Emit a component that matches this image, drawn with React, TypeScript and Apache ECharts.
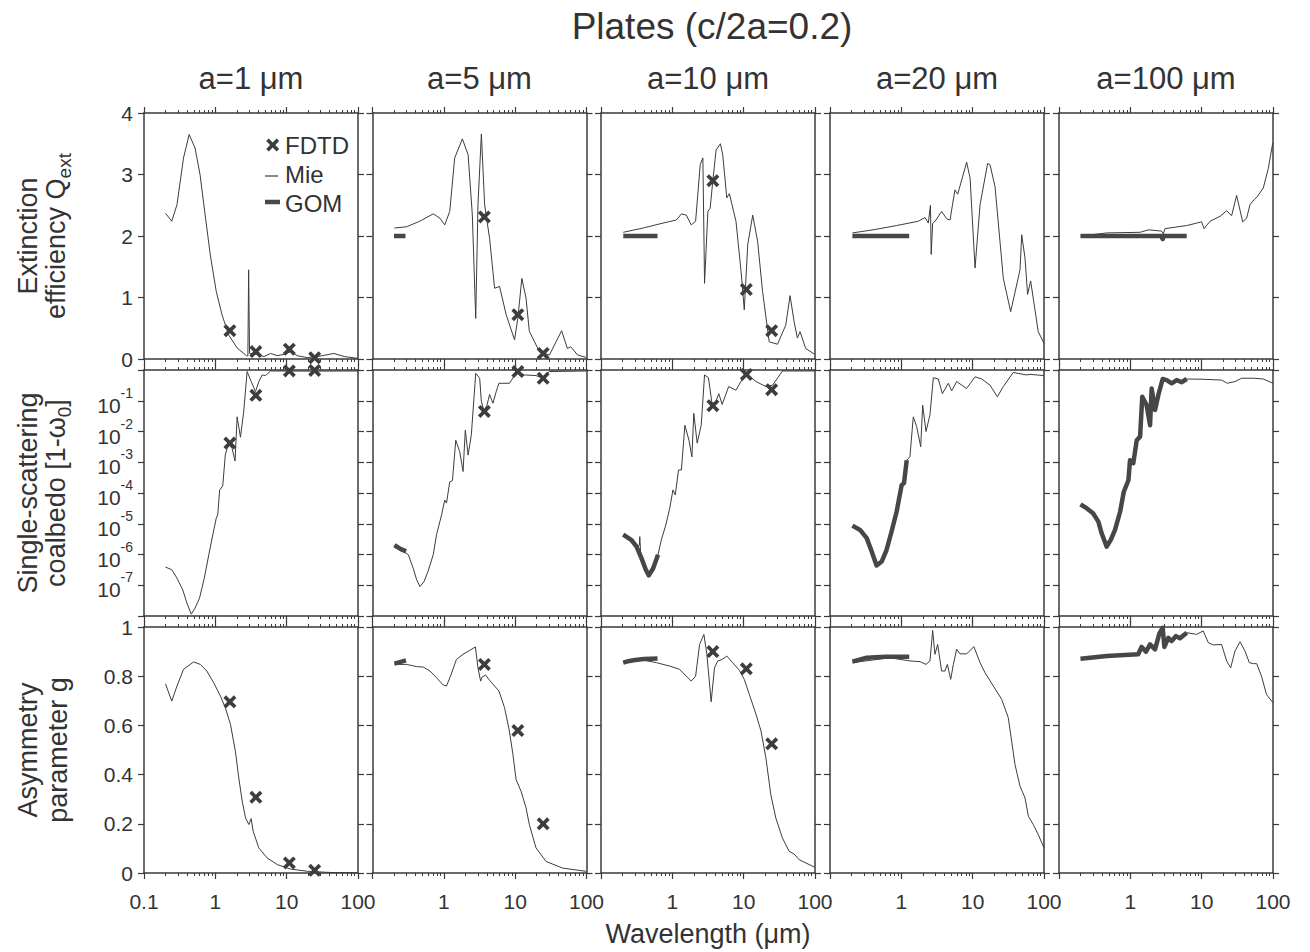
import React, { useEffect, useRef } from 'react';
import * as echarts from 'echarts';

// ---------------- DATA ----------------
const mainTitle = 'Plates (c/2a=0.2)';
const columnTitles = ['a=1 μm', 'a=5 μm', 'a=10 μm', 'a=20 μm', 'a=100 μm'];
const xAxisTitle = 'Wavelength (μm)';
const legendLabels = ['FDTD', 'Mie', 'GOM'];

// FDTD wavelengths (μm)
const fdtdWavelengths = [1.6, 3.7, 10.9, 24.7];

// Row 1: extinction efficiency Qext
const qextMie_a1 = [[0.2, 2.37], [0.245, 2.24], [0.29, 2.51], [0.358, 3.27], [0.43, 3.65], [0.52, 3.43], [0.61, 3.0], [0.72, 2.34], [0.85, 1.69], [1.03, 1.1], [1.24, 0.72], [1.54, 0.39], [2.02, 0.18], [2.73, 0.054], [2.86, 0.05], [2.93, 1.45], [3.02, 0.09], [3.86, 0.076], [4.8, 0.04], [5.95, 0.09], [7.4, 0.054], [9.2, 0.076], [11.4, 0.12], [14, 0.054], [19.5, 0.022], [27, 0.04], [46, 0.09], [64, 0.04], [100, 0.01]];
const qextFDTD_a1 = [0.46, 0.12, 0.16, 0.02];

const qextGOM_a5 = [[0.2, 2.0], [0.29, 2.0]];
const qextMie_a5 = [[0.203, 2.13], [0.3, 2.15], [0.46, 2.24], [0.71, 2.36], [0.88, 2.29], [1.03, 2.18], [1.21, 2.4], [1.42, 3.27], [1.82, 3.58], [2.19, 3.32], [2.51, 2.34], [2.8, 0.66], [3.01, 2.51], [3.36, 3.66], [3.73, 2.51], [4.38, 1.96], [5.15, 1.15], [6.04, 1.18], [7.48, 0.72], [9.8, 0.31], [10.9, 0.66], [12.4, 1.31], [14.2, 0.99], [15.8, 0.45], [21.9, 0.12], [30.2, 0.065], [44.8, 0.46], [54, 0.17], [60, 0.2], [75, 0.065], [98, 0.027]];
const qextFDTD_a5 = [null, 2.31, 0.72, 0.09];

const qextGOM_a10 = [[0.205, 2.0], [0.62, 2.0]];
const qextMie_a10 = [[0.205, 2.06], [0.39, 2.13], [0.74, 2.21], [1.14, 2.26], [1.34, 2.36], [1.57, 2.34], [1.84, 2.18], [2.12, 2.24], [2.46, 3.16], [2.68, 3.27], [2.83, 1.23], [3.15, 2.4], [3.39, 2.45], [3.69, 2.89], [4.11, 3.4], [4.72, 3.5], [5.09, 3.32], [5.8, 2.62], [6.3, 2.69], [7.8, 2.24], [9.2, 1.42], [10.2, 0.8], [11.4, 1.86], [13.4, 2.34], [15.7, 1.91], [18.4, 1.1], [22.8, 0.28], [29.8, 0.24], [38.9, 0.55], [44.7, 1.03], [50.9, 0.61], [56.6, 0.34], [61.7, 0.445], [74, 0.17], [98, 0.08]];
const qextFDTD_a10 = [null, 2.9, 1.13, 0.46];

const qextGOM_a20 = [[0.206, 2.0], [1.29, 2.0]];
const qextMie_a20 = [[0.206, 2.05], [0.4, 2.1], [0.86, 2.17], [1.73, 2.24], [2.15, 2.3], [2.39, 2.21], [2.56, 2.5], [2.62, 1.7], [2.75, 2.2], [3.06, 2.26], [3.67, 2.4], [4.32, 2.28], [4.81, 2.26], [5.65, 2.75], [6.17, 2.68], [8.24, 3.2], [9.2, 2.94], [10.8, 1.48], [12.7, 2.51], [16.2, 3.18], [17.5, 3.16], [20.6, 2.8], [26.9, 1.31], [34.1, 0.77], [46.1, 1.45], [48.7, 2.02], [54.2, 1.64], [58.9, 1.05], [65, 1.27], [83, 0.445], [100, 0.255]];
const qextFDTD_a20 = [null, null, null, null];

const qextGOM_a100 = [[0.2, 2.0], [2.7, 2.0], [2.84, 1.95], [2.95, 2.0], [6.17, 2.0]];
const qextMie_a100 = [[0.2, 2.0], [0.47, 2.05], [1.37, 2.06], [1.79, 2.1], [2.75, 2.08], [2.9, 2.03], [3.06, 2.12], [6.17, 2.17], [10.0, 2.23], [10.8, 2.12], [13.1, 2.24], [18.1, 2.32], [22.4, 2.41], [26.3, 2.33], [30.9, 2.66], [37.6, 2.23], [42.7, 2.29], [47.6, 2.51], [54.2, 2.59], [60.3, 2.64], [73.1, 2.78], [86, 3.1], [99, 3.51]];
const qextFDTD_a100 = [null, null, null, null];

// Row 2: single-scattering coalbedo 1-ω0
const coalbMie_a1 = [[0.2, 3.9e-7], [0.245, 3.2e-7], [0.29, 1.7e-7], [0.35, 7e-8], [0.4, 2.6e-8], [0.46, 1.15e-8], [0.52, 1.8e-8], [0.6, 3.8e-8], [0.7, 1.7e-7], [0.81, 9.8e-7], [0.93, 4.9e-6], [1.03, 1.5e-5], [1.08, 1.95e-5], [1.15, 1.26e-4], [1.27, 1.7e-4], [1.38, 1.74e-3], [1.46, 2.8e-3], [1.57, 3.6e-3], [1.72, 2.8e-3], [1.89, 1.1e-3], [2.02, 0.03], [2.25, 6.5e-3], [2.5, 0.045], [2.79, 0.89], [3.18, 0.42], [3.66, 0.2], [4.07, 0.42], [4.54, 0.69], [5.06, 0.66], [5.95, 0.93], [20, 0.92], [100, 0.93]];
const coalbFDTD_a1 = [0.0042, 0.15, 0.93, 0.97];

const coalbGOM_a5 = [[0.203, 2.0e-6], [0.25, 1.5e-6], [0.295, 1.26e-6]];
const coalbMie_a5 = [[0.203, 2.0e-6], [0.256, 1.4e-6], [0.318, 9.8e-7], [0.373, 3.5e-7], [0.416, 1.5e-7], [0.463, 9.1e-8], [0.526, 1.3e-7], [0.6, 2.8e-7], [0.71, 9.8e-7], [0.79, 4.4e-6], [0.93, 1.95e-5], [1.03, 5.9e-5], [1.09, 4.7e-5], [1.21, 2.3e-4], [1.32, 2.5e-4], [1.47, 5.2e-3], [1.67, 2.2e-3], [1.86, 5.0e-4], [2.0, 0.011], [2.19, 1.7e-3], [2.43, 7.8e-3], [2.8, 0.78], [3.18, 0.54], [3.36, 0.093], [3.66, 0.047], [4.03, 0.072], [4.38, 0.16], [4.88, 0.083], [5.43, 0.2], [5.92, 0.37], [8.3, 0.37], [10.7, 0.89], [13.5, 0.69], [19.6, 0.66], [24.3, 0.54], [30, 0.89], [100, 0.93]];
const coalbFDTD_a5 = [null, 0.045, 0.89, 0.54];

const coalbGOM_a10 = [[0.205, 4.4e-6], [0.268, 2.95e-6], [0.315, 1.8e-6], [0.369, 7.6e-7], [0.425, 3.2e-7], [0.468, 2.1e-7], [0.537, 3.5e-7], [0.63, 9.8e-7]];
const coalbMie_a10 = [[0.205, 4.4e-6], [0.268, 2.95e-6], [0.315, 1.8e-6], [0.345, 2e-6], [0.35, 3.8e-6], [0.36, 1.0e-6], [0.425, 3.2e-7], [0.468, 2.1e-7], [0.537, 3.5e-7], [0.63, 9.8e-7], [0.7, 2.95e-6], [0.81, 9.1e-6], [0.92, 3.2e-5], [1.02, 1.26e-4], [1.1, 8.7e-5], [1.22, 5.6e-4], [1.34, 5.6e-4], [1.5, 0.016], [1.71, 5.2e-3], [1.88, 1.5e-3], [2.0, 0.039], [2.23, 4.2e-3], [2.54, 0.016], [2.83, 0.69], [3.21, 0.56], [3.57, 0.093], [3.9, 0.072], [4.48, 0.17], [4.99, 0.076], [6.17, 0.29], [7.8, 0.22], [9.7, 0.54], [11.4, 0.69], [14.9, 0.42], [20.5, 0.29], [25.4, 0.32], [35, 0.93], [100, 0.93]];
const coalbFDTD_a10 = [null, 0.069, 0.72, 0.23];

const coalbGOM_a20 = [[0.206, 8.7e-6], [0.264, 6.3e-6], [0.327, 3.4e-6], [0.384, 1.26e-6], [0.45, 4.4e-7], [0.53, 5.9e-7], [0.62, 1.4e-6], [0.73, 5.6e-6], [0.86, 2.5e-5], [1.01, 1.8e-4], [1.09, 2.1e-4], [1.19, 1.17e-3]];
const coalbMie_a20 = [[1.01, 1.8e-4], [1.09, 2.1e-4], [1.19, 1.17e-3], [1.32, 1.5e-3], [1.47, 0.03], [1.64, 0.0145], [1.87, 3.2e-3], [1.99, 0.072], [2.22, 0.01], [2.52, 0.035], [2.81, 0.56], [3.3, 0.51], [3.76, 0.17], [4.56, 0.37], [5.08, 0.21], [5.97, 0.42], [8.2, 0.25], [10.8, 0.6], [13.4, 0.51], [17.5, 0.32], [22.2, 0.135], [26.9, 0.29], [37, 0.83], [57, 0.69], [63.6, 0.72], [100, 0.66]];
const coalbFDTD_a20 = [null, null, null, null];

const coalbGOM_a100 = [[0.2, 4.3e-5], [0.244, 3.2e-5], [0.3, 2.2e-5], [0.356, 1.17e-5], [0.396, 4.9e-6], [0.466, 1.8e-6], [0.53, 2.95e-6], [0.61, 6.3e-6], [0.72, 2.5e-5], [0.81, 1.1e-4], [0.94, 2.6e-4], [0.99, 1.17e-3], [1.1, 9.3e-4], [1.23, 5.2e-3], [1.37, 6.8e-3], [1.47, 0.135], [1.69, 0.072], [1.89, 0.016], [1.99, 0.25], [2.22, 0.05], [2.47, 0.155], [2.84, 0.51], [3.23, 0.47], [3.8, 0.37], [4.46, 0.47], [5.25, 0.4], [6.17, 0.51]];
const coalbMie_a100 = [[5.25, 0.4], [6.17, 0.51], [10.5, 0.5], [19, 0.47], [22.9, 0.37], [29.3, 0.42], [36.3, 0.54], [53, 0.54], [73, 0.51], [100, 0.37]];
const coalbFDTD_a100 = [null, null, null, null];

// Row 3: asymmetry parameter g
const gMie_a1 = [[0.2, 0.769], [0.245, 0.699], [0.29, 0.76], [0.358, 0.828], [0.495, 0.858], [0.615, 0.848], [0.76, 0.821], [0.95, 0.773], [1.18, 0.719], [1.38, 0.672], [1.63, 0.604], [1.91, 0.495], [2.13, 0.387], [2.38, 0.292], [2.65, 0.224], [2.95, 0.197], [3.18, 0.221], [3.39, 0.17], [4.07, 0.102], [5.34, 0.061], [7.4, 0.034], [11.4, 0.016], [19.5, 0.007], [41.7, 0.002], [100, 0.001]];
const gFDTD_a1 = [0.696, 0.308, 0.041, 0.011];

const gGOM_a5 = [[0.203, 0.851], [0.295, 0.864]];
const gMie_a5 = [[0.203, 0.848], [0.3, 0.848], [0.416, 0.839], [0.515, 0.837], [0.64, 0.821], [0.79, 0.794], [0.98, 0.764], [1.09, 0.76], [1.24, 0.8], [1.5, 0.868], [1.86, 0.889], [2.31, 0.905], [2.77, 0.919], [3.01, 0.834], [3.28, 0.78], [3.43, 0.796], [3.85, 0.805], [4.38, 0.783], [5.15, 0.76], [5.92, 0.74], [7.1, 0.672], [8.3, 0.577], [9.3, 0.482], [10.3, 0.38], [12.1, 0.332], [14.2, 0.265], [15.8, 0.197], [19.6, 0.102], [27.1, 0.047], [46.2, 0.02], [98, 0.007]];
const gFDTD_a5 = [null, 0.848, 0.579, 0.2];

const gGOM_a10 = [[0.205, 0.855], [0.25, 0.862], [0.3, 0.866], [0.4, 0.87], [0.62, 0.872]];
const gMie_a10 = [[0.205, 0.855], [0.35, 0.868], [0.6, 0.855], [0.92, 0.841], [1.26, 0.828], [1.57, 0.8], [1.84, 0.78], [2.12, 0.8], [2.41, 0.929], [2.77, 0.97], [3.05, 0.889], [3.5, 0.696], [3.9, 0.834], [4.34, 0.862], [4.99, 0.868], [5.8, 0.882], [7.0, 0.855], [8.7, 0.824], [10.2, 0.787], [12.0, 0.726], [14.9, 0.645], [17.5, 0.577], [20.5, 0.468], [24.0, 0.319], [28.2, 0.224], [35, 0.142], [43.4, 0.088], [51, 0.077], [60, 0.054], [98, 0.024]];
const gFDTD_a10 = [null, 0.9, 0.83, 0.525];

const gGOM_a20 = [[0.206, 0.859], [0.327, 0.875], [0.6, 0.879], [1.29, 0.879]];
const gMie_a20 = [[0.206, 0.855], [0.69, 0.875], [1.32, 0.862], [1.83, 0.859], [2.22, 0.848], [2.52, 0.862], [2.75, 0.986], [2.96, 0.889], [3.23, 0.929], [3.67, 0.821], [4.09, 0.821], [4.42, 0.848], [4.92, 0.787], [5.36, 0.848], [5.97, 0.909], [6.64, 0.891], [8.24, 0.891], [10.4, 0.92], [12.7, 0.855], [14.9, 0.814], [19.5, 0.76], [25.5, 0.706], [31.6, 0.631], [35.2, 0.536], [39.2, 0.441], [46.1, 0.353], [54.2, 0.305], [60.3, 0.231], [70.8, 0.197], [83, 0.156], [100, 0.102]];
const gFDTD_a20 = [null, null, null, null];

const gGOM_a100 = [[0.2, 0.871], [0.47, 0.882], [1.29, 0.889], [1.44, 0.919], [1.66, 0.9], [1.89, 0.929], [2.22, 0.909], [2.55, 0.973], [2.84, 0.997], [3.0, 0.919], [3.41, 0.956], [3.8, 0.943], [4.37, 0.963], [4.97, 0.954], [6.17, 0.977]];
const gMie_a100 = [[4.97, 0.954], [6.17, 0.977], [8.5, 0.97], [10.5, 0.984], [12.4, 0.936], [14.6, 0.927], [19, 0.929], [22.4, 0.862], [25.5, 0.834], [29.3, 0.902], [34.5, 0.94], [40.5, 0.902], [46.6, 0.855], [53, 0.851], [59, 0.851], [69, 0.8], [81, 0.726], [100, 0.692]];
const gFDTD_a100 = [null, null, null, null];

const panelRows = [
  [
    { mie: qextMie_a1, gom: null, fdtd: qextFDTD_a1 },
    { mie: qextMie_a5, gom: qextGOM_a5, fdtd: qextFDTD_a5 },
    { mie: qextMie_a10, gom: qextGOM_a10, fdtd: qextFDTD_a10 },
    { mie: qextMie_a20, gom: qextGOM_a20, fdtd: qextFDTD_a20 },
    { mie: qextMie_a100, gom: qextGOM_a100, fdtd: qextFDTD_a100 },
  ],
  [
    { mie: coalbMie_a1, gom: null, fdtd: coalbFDTD_a1 },
    { mie: coalbMie_a5, gom: coalbGOM_a5, fdtd: coalbFDTD_a5 },
    { mie: coalbMie_a10, gom: coalbGOM_a10, fdtd: coalbFDTD_a10 },
    { mie: coalbMie_a20, gom: coalbGOM_a20, fdtd: coalbFDTD_a20 },
    { mie: coalbMie_a100, gom: coalbGOM_a100, fdtd: coalbFDTD_a100 },
  ],
  [
    { mie: gMie_a1, gom: null, fdtd: gFDTD_a1 },
    { mie: gMie_a5, gom: gGOM_a5, fdtd: gFDTD_a5 },
    { mie: gMie_a10, gom: gGOM_a10, fdtd: gFDTD_a10 },
    { mie: gMie_a20, gom: gGOM_a20, fdtd: gFDTD_a20 },
    { mie: gMie_a100, gom: gGOM_a100, fdtd: gFDTD_a100 },
  ],
];

// ---------------- STYLE / LAYOUT ----------------
const FONT = '"Liberation Sans", Arial, Helvetica, sans-serif';
const INK = '#333333';
const AXIS = '#3a3a3a';
const LINE = '#3c3c3c';
const GOMC = '#474747';
const MARK = '#3d3d3d';
const gridLefts = [144, 372.5, 601, 830, 1059];
const gridTops = [113, 370, 627];
const GW = 214;
const GH = 246;
const TICK_FS = 21;
const XMARK = 'path://M0,2L2,0L5,3L8,0L10,2L7,5L10,8L8,10L5,7L2,10L0,8L3,5Z';

function buildOption() {
  const grid: any[] = [];
  const xAxis: any[] = [];
  const yAxis: any[] = [];
  const series: any[] = [];
  const graphic: any[] = [];

  panelRows.forEach((row, r) => {
    row.forEach((panel, c) => {
      const p = r * 5 + c;
      grid.push({ left: gridLefts[c], top: gridTops[r], width: GW, height: GH, containLabel: false });
      const xBase: any = {
        type: 'log', logBase: 10, gridIndex: p, min: 0.1, max: 100,
        axisLine: { show: true, onZero: false, lineStyle: { color: AXIS, width: 1.5 } },
        axisTick: { show: true, inside: false, length: 6, lineStyle: { color: AXIS, width: 1.2 } },
        minorTick: { show: true, splitNumber: 9, length: 3, lineStyle: { color: AXIS, width: 1 } },
        splitLine: { show: false }, minorSplitLine: { show: false },
      };
      xAxis.push({
        ...xBase, position: 'bottom',
        axisLabel: r === 2 ? {
          show: true, margin: 18, fontSize: TICK_FS, fontFamily: FONT, color: INK,
          formatter: (v: number) => {
            const e = Math.round(Math.log10(v));
            if (e === -1) return c === 0 ? '0.1' : '';
            return String(Math.pow(10, e));
          },
        } : { show: false },
      });
      xAxis.push({ ...xBase, position: 'top', axisLabel: { show: false } });

      let yBase: any;
      if (r === 0) {
        yBase = { type: 'value', min: 0, max: 4, interval: 1 };
      } else if (r === 1) {
        yBase = { type: 'log', logBase: 10, min: 1e-8, max: 1 };
      } else {
        yBase = { type: 'value', min: 0, max: 1, interval: 0.2 };
      }
      const yCommon = {
        ...yBase, gridIndex: p,
        axisLine: { show: true, onZero: false, lineStyle: { color: AXIS, width: 1.5 } },
        axisTick: { show: true, inside: false, length: 6, lineStyle: { color: AXIS, width: 1.2 } },
        splitLine: { show: false },
      };
      const yLabel: any = c === 0 ? {
        show: true, margin: 11, fontSize: TICK_FS, fontFamily: FONT, color: INK,
        formatter: (v: number) => {
          if (r === 0) return String(Math.round(v));
          if (r === 2) return v === 0 ? '0' : v === 1 ? '1' : v.toFixed(1);
          const e = Math.round(Math.log10(v));
          if (e >= 0 || e <= -8) return '';
          return `{b|10}{s|${e}}`;
        },
        rich: {
          b: { fontSize: TICK_FS, fontFamily: FONT, color: INK, lineHeight: 30, verticalAlign: 'bottom' },
          s: { fontSize: 14, fontFamily: FONT, color: INK, lineHeight: 14, verticalAlign: 'top' },
        },
      } : { show: false };
      yAxis.push({ ...yCommon, position: 'left', axisLabel: yLabel });
      yAxis.push({ ...yCommon, position: 'right', axisLabel: { show: false } });

      const xi = p * 2;
      const yi = p * 2;
      series.push({
        type: 'line', name: 'Mie', xAxisIndex: xi, yAxisIndex: yi, data: panel.mie,
        showSymbol: false, symbol: 'none', lineStyle: { color: LINE, width: 1 }, z: 2, silent: true,
      });
      if (panel.gom) {
        series.push({
          type: 'line', name: 'GOM', xAxisIndex: xi, yAxisIndex: yi, data: panel.gom,
          showSymbol: false, symbol: 'none', lineStyle: { color: GOMC, width: 4.5, cap: 'butt', join: 'round' }, z: 3, silent: true,
        });
      }
      const fd = fdtdWavelengths.map((w, i) => [w, panel.fdtd[i]]).filter((d) => d[1] !== null);
      if (fd.length) {
        series.push({
          type: 'scatter', name: 'FDTD', xAxisIndex: xi, yAxisIndex: yi, data: fd, clip: false,
          symbol: XMARK, symbolSize: 13, itemStyle: { color: MARK, opacity: 1 }, z: 4, silent: true,
        });
      }
    });
  });

  const txt = (x: number, y: number, text: string, size: number, extra: any = {}) => ({
    type: 'text', x, y, silent: true,
    style: { text, fontSize: size, fontFamily: FONT, fill: INK, align: 'center', verticalAlign: 'middle', ...extra },
  });

  graphic.push(txt(712, 26, mainTitle, 37));
  columnTitles.forEach((t, c) => graphic.push(txt(gridLefts[c] + GW / 2, 78, t, 31)));
  graphic.push(txt(708, 934, xAxisTitle, 27));

  const rotTitle = (x: number, y: number, text: string, rich?: any) => ({
    type: 'text', x, y, rotation: Math.PI / 2, silent: true,
    style: { text, fontSize: 27, fontFamily: FONT, fill: INK, align: 'center', verticalAlign: 'middle', rich },
  });
  const richSub = {
    a: { fontSize: 27, fontFamily: FONT, fill: INK, color: INK, lineHeight: 32, verticalAlign: 'top' },
    s: { fontSize: 19, fontFamily: FONT, fill: INK, color: INK, lineHeight: 18, verticalAlign: 'bottom' },
  };
  const rc = gridTops.map((t) => t + GH / 2);
  graphic.push(rotTitle(28, rc[0], 'Extinction'));
  graphic.push(rotTitle(58, rc[0], '{a|efficiency Q}{s|ext}', richSub));
  graphic.push(rotTitle(28, rc[1], 'Single-scattering'));
  graphic.push(rotTitle(58, rc[1], '{a|coalbedo [1-ω}{s|0}{a|]}', richSub));
  graphic.push(rotTitle(28, rc[2], 'Asymmetry'));
  graphic.push(rotTitle(58, rc[2], 'parameter g'));

  // legend (first panel)
  const mx = 272.7, my = 145, ms = 13;
  const xPts = [[0, 2], [2, 0], [5, 3], [8, 0], [10, 2], [7, 5], [10, 8], [8, 10], [5, 7], [2, 10], [0, 8], [3, 5]]
    .map(([a, b]) => [mx - ms / 2 + (a * ms) / 10, my - ms / 2 + (b * ms) / 10]);
  graphic.push({ type: 'polygon', shape: { points: xPts }, style: { fill: MARK }, silent: true });
  graphic.push({ type: 'line', shape: { x1: 265, y1: 176, x2: 278, y2: 176 }, style: { stroke: LINE, lineWidth: 1.2 }, silent: true });
  graphic.push({ type: 'line', shape: { x1: 265, y1: 202, x2: 280, y2: 202 }, style: { stroke: GOMC, lineWidth: 4.5 }, silent: true });
  legendLabels.forEach((l, i) => graphic.push(txt(285, 145 + i * 29, l, 24, { align: 'left' })));

  return {
    animation: false,
    backgroundColor: '#ffffff',
    grid, xAxis, yAxis, series, graphic,
  };
}

export default function App() {
  const ref = useRef<HTMLDivElement>(null);
  useEffect(() => {
    if (!ref.current) return;
    const chart = echarts.init(ref.current, null, { renderer: 'svg' });
    chart.setOption(buildOption() as any);
    return () => chart.dispose();
  }, []);
  return <div ref={ref} style={{ position: 'absolute', left: 0, top: 0, width: 1310, height: 952, background: '#fff' }} />;
}
